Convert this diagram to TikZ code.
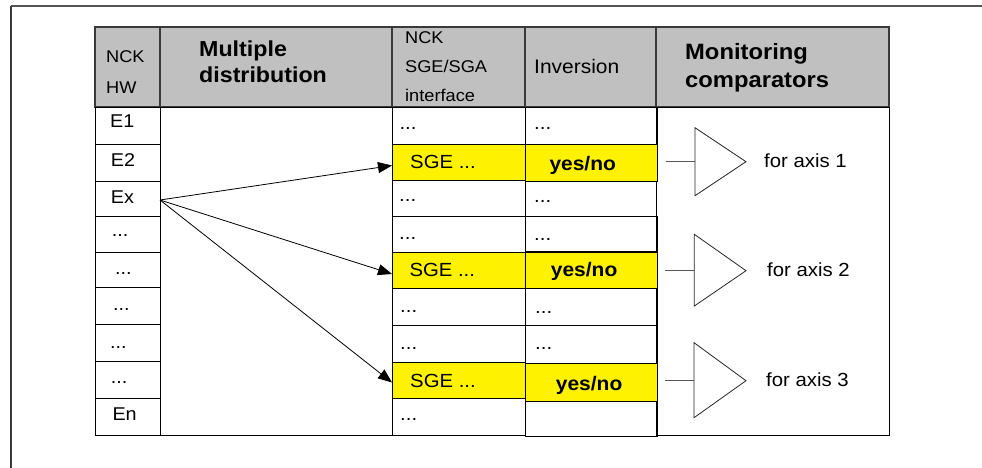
\documentclass[tikz,border=0pt]{standalone}
\usepackage{fontspec}
\setmainfont[FakeStretch=1.07]{Liberation Sans}
\usetikzlibrary{arrows.meta}
\definecolor{hdrgray}{HTML}{C0C0C0}
\definecolor{framegray}{HTML}{555555}
\definecolor{hdrline}{HTML}{3A3A3A}
\newcommand\mkcell[6]{\node[#6, minimum width={#4-#2}, minimum height={#5-#3}] (#1) at ({(#2+#4)/2},{(#3+#5)/2}) {};}
\begin{document}
\begin{tikzpicture}[x=1pt,y=-1pt,
  cell/.style={draw=black,line width=0.8pt,inner sep=0pt,outer sep=0pt,rectangle},
  hdr/.style={cell,draw=hdrline,fill=hdrgray,line width=1.1pt},
  yel/.style={cell,fill=yellow},
  txt/.style={inner sep=0pt,anchor=base west,font=\fontsize{19}{22}\selectfont},
  etxt/.style={txt,font=\fontsize{18.5}{22}\selectfont},
  yn/.style={txt,font=\fontsize{19.6}{22}\selectfont\bfseries},
  small/.style={txt,font=\fontsize{17}{20}\selectfont},
  big/.style={txt,font=\fontsize{21.7}{24}\selectfont\bfseries},
  arr/.style={line width=0.8pt,-{Triangle[length=14pt,width=11pt]}},
  comp/.style={line width=0.8pt,draw=black!85,line join=miter},
  feed/.style={line width=1pt,draw=black!65}
]
\useasboundingbox (0,0) rectangle (982,468);
% outer frame
\coordinate (fr-tl) at (11,6);
\coordinate (fr-tr) at (982,6);
\coordinate (fr-bl) at (11,468);
\draw[framegray,line width=2pt] (fr-tl) -- (fr-tr);
\draw[hdrline,line width=1.2pt] (fr-tl) -- (fr-bl);
% header
\mkcell{h1}{95}{27}{160}{107}{hdr}
\mkcell{h2}{160}{27}{392}{107}{hdr}
\mkcell{h3}{392}{27}{525}{107}{hdr}
\mkcell{h4}{525}{27}{656}{107}{hdr}
\mkcell{h5}{656}{27}{889}{107}{hdr}
% big body cells
\mkcell{md}{160}{107}{392}{435}{cell}
\mkcell{mon}{656}{107}{889}{435}{cell}
% HW column
\mkcell{hw1}{95}{107}{160}{144}{cell}
\mkcell{hw2}{95}{144}{160}{181}{cell}
\mkcell{hw3}{95}{181}{160}{216}{cell}
\mkcell{hw4}{95}{216}{160}{252}{cell}
\mkcell{hw5}{95}{252}{160}{287}{cell}
\mkcell{hw6}{95}{287}{160}{324}{cell}
\mkcell{hw7}{95}{324}{160}{361}{cell}
\mkcell{hw8}{95}{361}{160}{398}{cell}
\mkcell{hw9}{95}{398}{160}{435}{cell}
% SGE column
\mkcell{s1}{392}{107}{525}{144}{cell}
\mkcell{s2}{392}{144}{525}{180}{yel}
\mkcell{s3}{392}{180}{525}{216}{cell}
\mkcell{s4}{392}{216}{525}{252}{cell}
\mkcell{s5}{392}{252}{525}{288}{yel}
\mkcell{s6}{392}{288}{525}{325}{cell}
\mkcell{s7}{392}{325}{525}{362}{cell}
\mkcell{s8}{392}{362}{525}{398}{yel}
\mkcell{s9}{392}{398}{525}{435}{cell}
% Inversion column
\mkcell{v1}{525}{107}{657}{144}{cell}
\mkcell{v2}{525}{144}{657}{181}{yel}
\mkcell{v3}{525}{181}{656}{216}{cell}
\mkcell{v4}{525}{216}{657}{251}{cell}
\mkcell{v5}{525}{252}{657}{288}{yel}
\mkcell{v6}{525}{288}{657}{325}{cell}
\mkcell{v7}{525}{325}{657}{363}{cell}
\mkcell{v8}{525}{363}{657}{401}{yel}
\mkcell{v9}{525}{401}{657}{436}{cell}
% header texts
\node[small] (th1a) at (106,62.7) {NCK};
\node[small] (th1b) at (106,93.3) {HW};
\node[big] (th2a) at (199,57) {Multiple};
\node[big] (th2b) at (199,83) {distribution};
\node[small] (th3a) at (405,44) {NCK};
\node[small] (th3b) at (405,73) {SGE/SGA};
\node[small] (th3c) at (405,102) {interface};
\node[txt,font=\fontsize{19.6}{22}\selectfont] (th4) at (534,73.3) {Inversion};
\node[big,font=\fontsize{22.2}{24}\selectfont\bfseries] (th5a) at (685,60) {Monitoring};
\node[big,font=\fontsize{22.2}{24}\selectfont\bfseries] (th5b) at (685,87.5) {comparators};
% HW texts
\node[etxt] (te1) at (110,127.7) {E1};
\node[etxt] (te2) at (110.7,166.7) {E2};
\node[etxt] (te3) at (110.7,203.3) {Ex};
\node[etxt] (te4) at (111.7,236.7) {...};
\node[etxt] (te5) at (115,274) {...};
\node[etxt] (te6) at (113,310) {...};
\node[etxt] (te7) at (110,348) {...};
\node[etxt] (te8) at (110.7,383) {...};
\node[etxt] (te9) at (112.3,420) {En};
% SGE texts
\node[txt] (ts1) at (399.3,130) {...};
\node[txt] (ts2) at (410,168.3) {SGE ...};
\node[txt] (ts3) at (399,201.7) {...};
\node[txt] (ts4) at (399,239.3) {...};
\node[txt] (ts5) at (409.3,276.7) {SGE ...};
\node[txt] (ts6) at (400,312.7) {...};
\node[txt] (ts7) at (400,349) {...};
\node[txt] (ts8) at (410,387.3) {SGE ...};
\node[txt] (ts9) at (400,420.7) {...};
% Inversion texts
\node[txt] (tv1) at (534,130) {...};
\node[yn] (tv2) at (549.3,170) {yes/no};
\node[txt] (tv3) at (534,202.3) {...};
\node[txt] (tv4) at (534,240) {...};
\node[yn] (tv5) at (550.7,276) {yes/no};
\node[txt] (tv6) at (535,313.3) {...};
\node[txt] (tv7) at (535,349.3) {...};
\node[yn] (tv8) at (555.7,390) {yes/no};
% arrows
\draw[arr] ([yshift=-1.5pt]hw3.east) -- ([yshift=-3.5pt]s2.west);
\draw[arr] ([yshift=-1.5pt]hw3.east) -- ([yshift=-4pt]s5.west);
\draw[arr] ([yshift=-1.5pt]hw3.east) -- ([yshift=-2.5pt]s8.west);
% comparators
\coordinate (c1in) at (666,161.7);
\coordinate (c1l) at (695,161.7);
\coordinate (c1t) at (695,127.7);
\coordinate (c1a) at (746,161.7);
\coordinate (c1b) at (695,195.7);
\draw[feed] (c1in) -- (c1l);
\draw[comp] (c1t) -- (c1a) -- (c1b) -- cycle;
\node[txt] (ta1) at (764,167.3) {for axis 1};
\coordinate (c2in) at (665,270.7);
\coordinate (c2l) at (694.3,270.7);
\coordinate (c2t) at (694.3,234.3);
\coordinate (c2a) at (746,270.7);
\coordinate (c2b) at (694.3,306);
\draw[feed] (c2in) -- (c2l);
\draw[comp] (c2t) -- (c2a) -- (c2b) -- cycle;
\node[txt] (ta2) at (767,276) {for axis 2};
\coordinate (c3in) at (665,380.7);
\coordinate (c3l) at (694,380.7);
\coordinate (c3t) at (694,342.7);
\coordinate (c3a) at (746,380.7);
\coordinate (c3b) at (694,417.7);
\draw[feed] (c3in) -- (c3l);
\draw[comp] (c3t) -- (c3a) -- (c3b) -- cycle;
\node[txt] (ta3) at (766,386) {for axis 3};
\end{tikzpicture}
\end{document}
